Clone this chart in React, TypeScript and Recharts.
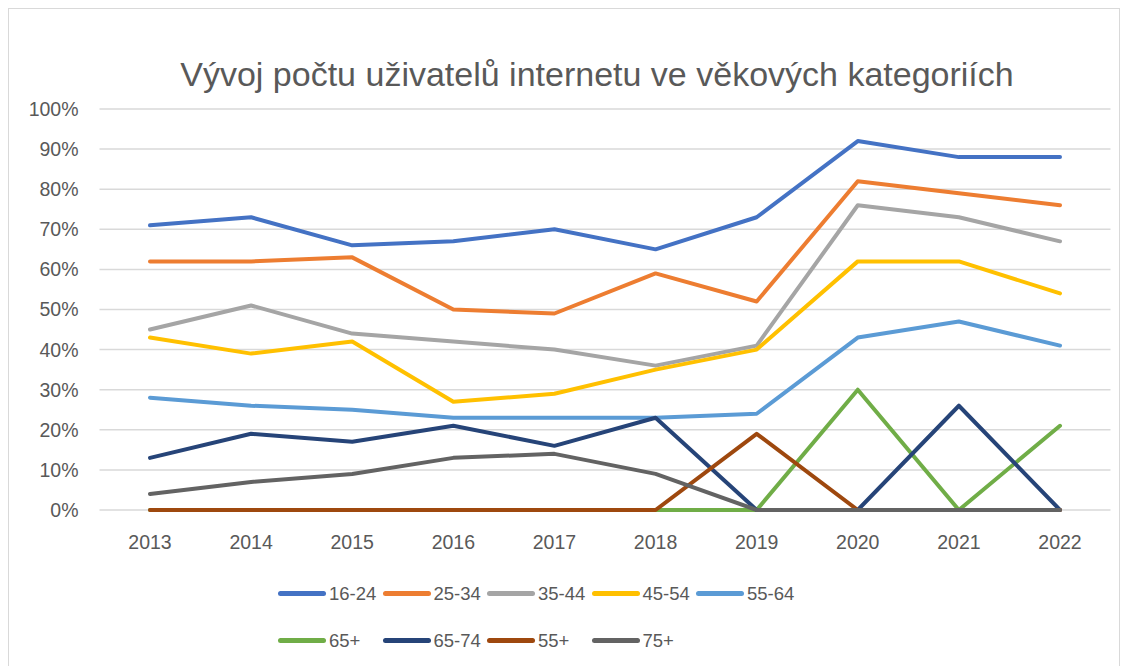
import { CartesianGrid, Legend, Line, LineChart, XAxis, YAxis } from "recharts"

const years = ["2013", "2014", "2015", "2016", "2017", "2018", "2019", "2020", "2021", "2022"]

const age16_24 = [71, 73, 66, 67, 70, 65, 73, 92, 88, 88]
const age25_34 = [62, 62, 63, 50, 49, 59, 52, 82, 79, 76]
const age35_44 = [45, 51, 44, 42, 40, 36, 41, 76, 73, 67]
const age45_54 = [43, 39, 42, 27, 29, 35, 40, 62, 62, 54]
const age55_64 = [28, 26, 25, 23, 23, 23, 24, 43, 47, 41]
const age65plus = [0, 0, 0, 0, 0, 0, 0, 30, 0, 21]
const age65_74 = [13, 19, 17, 21, 16, 23, 0, 0, 26, 0]
const age55plus = [0, 0, 0, 0, 0, 0, 19, 0, 0, 0]
const age75plus = [4, 7, 9, 13, 14, 9, 0, 0, 0, 0]

const yTicks = [0, 10, 20, 30, 40, 50, 60, 70, 80, 90, 100]

const series = [
  { key: "s1", name: "16-24", color: "#4472C4", values: age16_24 },
  { key: "s2", name: "25-34", color: "#ED7D31", values: age25_34 },
  { key: "s3", name: "35-44", color: "#A5A5A5", values: age35_44 },
  { key: "s4", name: "45-54", color: "#FFC000", values: age45_54 },
  { key: "s5", name: "55-64", color: "#5B9BD5", values: age55_64 },
  { key: "s6", name: "65+", color: "#70AD47", values: age65plus },
  { key: "s7", name: "65-74", color: "#264478", values: age65_74 },
  { key: "s8", name: "55+", color: "#9E480E", values: age55plus },
  { key: "s9", name: "75+", color: "#636363", values: age75plus },
]

const data = years.map((year, i) => {
  const row: Record<string, string | number> = { year }
  series.forEach((s) => {
    row[s.key] = s.values[i]
  })
  return row
})

const FONT = "'Liberation Sans', Arial, sans-serif"
const TEXT = "#595959"

function LegendGrid() {
  return (
    <div style={{ paddingLeft: 269, paddingTop: 26, fontFamily: FONT, fontSize: 18.5, color: TEXT }}>
      <div style={{ display: "grid", gridTemplateColumns: "repeat(5, 104.5px)", rowGap: 22 }}>
        {series.map((s) => (
          <div key={s.key} style={{ display: "flex", alignItems: "center", height: 25 }}>
            <span
              style={{
                display: "inline-block",
                width: 48,
                height: 5,
                borderRadius: 2.5,
                background: s.color,
                marginRight: 3,
              }}
            />
            <span>{s.name}</span>
          </div>
        ))}
      </div>
    </div>
  )
}

export default function App() {
  return (
    <div
      style={{
        position: "relative",
        width: 1110,
        height: 660,
        border: "1px solid #d9d9d9",
        background: "#fff",
      }}
    >
      <div
        style={{
          position: "absolute",
          top: 46,
          left: 0,
          width: 1176,
          textAlign: "center",
          fontFamily: FONT,
          fontSize: 34,
          color: TEXT,
        }}
      >
        Vývoj počtu uživatelů internetu ve věkových kategoriích
      </div>
      <LineChart
        width={1110}
        height={660}
        data={data}
        margin={{ top: 100, right: 8.5, bottom: 4, left: 0 }}
      >
        <CartesianGrid vertical={false} stroke="#d9d9d9" strokeWidth={1.5} />
        <XAxis
          dataKey="year"
          axisLine={false}
          tickLine={false}
          height={45}
          padding={{ left: 50.5, right: 50.5 }}
          tick={{ fill: TEXT, fontSize: 19.5, fontFamily: FONT }}
          tickMargin={19}
        />
        <YAxis
          domain={[0, 100]}
          ticks={yTicks}
          width={90.5}
          axisLine={false}
          tickLine={false}
          tickFormatter={(v: number) => `${v}%`}
          tick={{ fill: TEXT, fontSize: 19.5, fontFamily: FONT }}
          tickMargin={15}
        />
        <Legend verticalAlign="bottom" height={110} content={() => <LegendGrid />} />
        {series.map((s) => (
          <Line
            key={s.key}
            dataKey={s.key}
            name={s.name}
            stroke={s.color}
            strokeWidth={4}
            strokeLinecap="round"
            strokeLinejoin="round"
            dot={false}
            type="linear"
            isAnimationActive={false}
          />
        ))}
      </LineChart>
    </div>
  )
}
